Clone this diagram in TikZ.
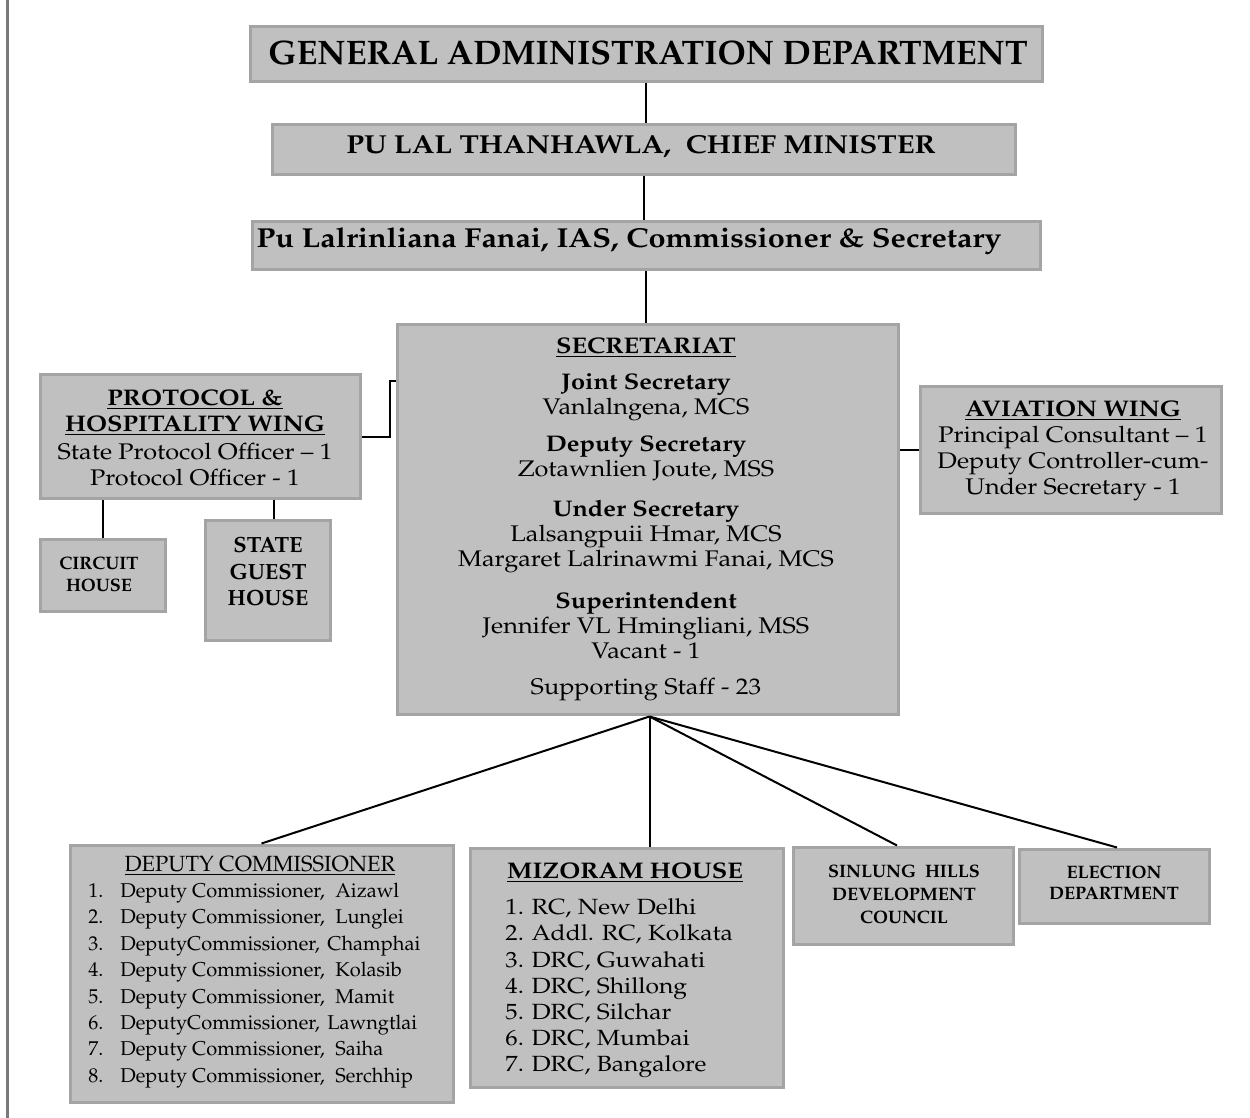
\documentclass[tikz,border=0pt]{standalone}
\usepackage[T1]{fontenc}
\renewcommand{\rmdefault}{ppl}
\usepackage{graphicx}
\usetikzlibrary{calc}

\definecolor{boxfill}{HTML}{C0C0C0}
\definecolor{boxedge}{HTML}{A4A4A4}
\definecolor{margin}{HTML}{7A7A7A}

\newcommand{\fs}[2]{\fontsize{#1}{#2}\selectfont}

\tikzset{
  x=0.5pt, y=-0.5pt,
  box/.style={draw=boxedge, fill=boxfill, line width=1.5pt, inner sep=0pt, rectangle},
  link/.style={draw=black, line width=1pt},
  txt/.style={inner sep=0pt, align=center, text=black},
  wide/.style={xscale=1.12, transform shape},
}

\begin{document}
\begin{tikzpicture}
\useasboundingbox (0,0) rectangle (1250,1118);
\fill[white] (0,0) rectangle (1250,1118);
\draw[margin, line width=1.5pt] (7,0) -- (7,1118);

% ---- boxes ----
\node[box, minimum width=396pt,   minimum height=27.5pt] (gad)  at (646,54.5)   {};
\node[box, minimum width=371.5pt, minimum height=25pt]   (cm)   at (643.5,150)  {};
\node[box, minimum width=394pt,   minimum height=24pt]   (comm) at (646,246)    {};
\node[box, minimum width=250.5pt, minimum height=195pt]  (sec)  at (647.5,520)  {};
\node[box, minimum width=160pt,   minimum height=62pt]   (prot) at (200,437)    {};
\node[box, minimum width=62.5pt,  minimum height=36pt]   (ch)   at (102.5,576)  {};
\node[box, minimum width=62.5pt,  minimum height=60pt]   (sgh)  at (267.5,581)  {};
\node[box, minimum width=150.5pt, minimum height=63.5pt] (av)   at (1070.5,450.5) {};
\node[box, minimum width=191.5pt, minimum height=128.5pt](dc)   at (261.5,973.5) {};
\node[box, minimum width=156.5pt, minimum height=119.5pt](miz)  at (626.5,967.5) {};
\node[box, minimum width=110pt,   minimum height=48.5pt] (sin)  at (903,895.5)  {};
\node[box, minimum width=95pt,    minimum height=37pt]   (elec) at (1114,886)   {};

% ---- connectors ----
\draw[link] (gad.south) -- (gad.south |- cm.north);
\draw[link] (cm.south) -- (cm.south |- comm.north);
\draw[link] (comm.south) -- (comm.south |- sec.north);
\draw[link] (prot.east) -- ++(28,0) |- ($(sec.north west)+(0,58)$);
\draw[link] (sec.east |- av.west) -- (av.west);
\draw[link] (ch.north) -- (ch.north |- prot.south);
\coordinate (sgh-in) at ($(sgh.north)+(6,0)$);
\draw[link] (sgh-in) -- (sgh-in |- prot.south);
\coordinate (fan) at ($(sec.south)+(2,0)$);
\draw[link] (fan) -- (dc.north);
\draw[link] (fan) -- (fan |- miz.north);
\draw[link] (fan) -- ($(sin.north)+(-6,0)$);
\draw[link] (fan) -- ($(elec.north)+(3,0)$);

% ---- texts ----
\node[txt, font=\fs{17}{20}\bfseries] (gad-t) at (648,53) {GENERAL ADMINISTRATION DEPARTMENT};
\node[txt, wide, font=\fs{13}{15}\bfseries] (cm-t) at (641,147) {PU LAL THANHAWLA,\ \ CHIEF MINISTER};
\node[txt, wide, font=\fs{13.7}{16}\bfseries] (comm-t) at (629,241) {Pu Lalrinliana Fanai, IAS, Commissioner \& Secretary};

\node[txt, wide, font=\fs{11.3}{12.5}] (sec-t) at (646,519) {%
  \textbf{\underline{SECRETARIAT}}\\[5.5pt]
  \textbf{Joint Secretary}\\ Vanlalngena, MCS\\[6pt]
  \textbf{Deputy Secretary}\\ Zotawnlien Joute, MSS\\[7.5pt]
  \textbf{Under Secretary}\\ Lalsangpuii Hmar, MCS\\ Margaret Lalrinawmi Fanai, MCS\\[8.5pt]
  \textbf{Superintendent}\\ Jennifer VL Hmingliani, MSS\\ Vacant - 1\\[5.5pt]
  Supporting Staff - 23};

\node[txt, wide, font=\fs{11.3}{13}] (prot-t) at (195,438) {%
  \textbf{\underline{PROTOCOL \&}}\\
  \textbf{\underline{HOSPITALITY WING}}\\[1pt]
  State Protocol Officer -- 1\\
  Protocol Officer - 1};

\node[txt, font=\fs{9}{11}\bfseries] (ch-t) at (99,574) {CIRCUIT\\HOUSE};
\node[txt, font=\fs{11}{13.25}\bfseries] (sgh-t) at (268,571.5) {STATE\\GUEST\\HOUSE};

\node[txt, wide, font=\fs{11.3}{13}] (av-t) at (1073,451) {%
  \textbf{\underline{AVIATION WING}}\\
  Principal Consultant -- 1\\
  Deputy Controller-cum-\\
  Under Secretary - 1};

\node[txt, font=\fs{11}{12}] (dc-h) at (260,866) {\underline{DEPUTY COMMISSIONER}};
\node[txt, align=left, anchor=west, font=\fs{10}{13.2}] (dc-t) at (88,985.5) {%
  \makebox[16pt][l]{1.}\makebox[107.5pt][l]{Deputy Commissioner,}Aizawl\\
  \makebox[16pt][l]{2.}\makebox[107.5pt][l]{Deputy Commissioner,}Lunglei\\
  \makebox[16pt][l]{3.}\makebox[103.5pt][l]{DeputyCommissioner,}Champhai\\
  \makebox[16pt][l]{4.}\makebox[107.5pt][l]{Deputy Commissioner,}Kolasib\\
  \makebox[16pt][l]{5.}\makebox[107.5pt][l]{Deputy Commissioner,}Mamit\\
  \makebox[16pt][l]{6.}\makebox[103.5pt][l]{DeputyCommissioner,}Lawngtlai\\
  \makebox[16pt][l]{7.}\makebox[107.5pt][l]{Deputy Commissioner,}Saiha\\
  \makebox[16pt][l]{8.}\makebox[107.5pt][l]{Deputy Commissioner,}Serchhip};

\node[txt, wide, font=\fs{11.3}{13}\bfseries] (miz-h) at (625,873) {\underline{MIZORAM HOUSE}};
\node[txt, wide, align=left, anchor=west, font=\fs{11}{13.1}] (miz-t) at (505,988.5) {%
  1. RC, New Delhi\\
  2. Addl. RC, Kolkata\\
  3. DRC, Guwahati\\
  4. DRC, Shillong\\
  5. DRC, Silchar\\
  6. DRC, Mumbai\\
  7. DRC, Bangalore};

\node[txt, font=\fs{9}{11.5}\bfseries] (sin-t) at (904,894) {SINLUNG\ \ HILLS\\DEVELOPMENT\\COUNCIL};
\node[txt, font=\fs{9}{10.5}\bfseries] (elec-t) at (1114,882.5) {ELECTION\\DEPARTMENT};
\end{tikzpicture}
\end{document}
